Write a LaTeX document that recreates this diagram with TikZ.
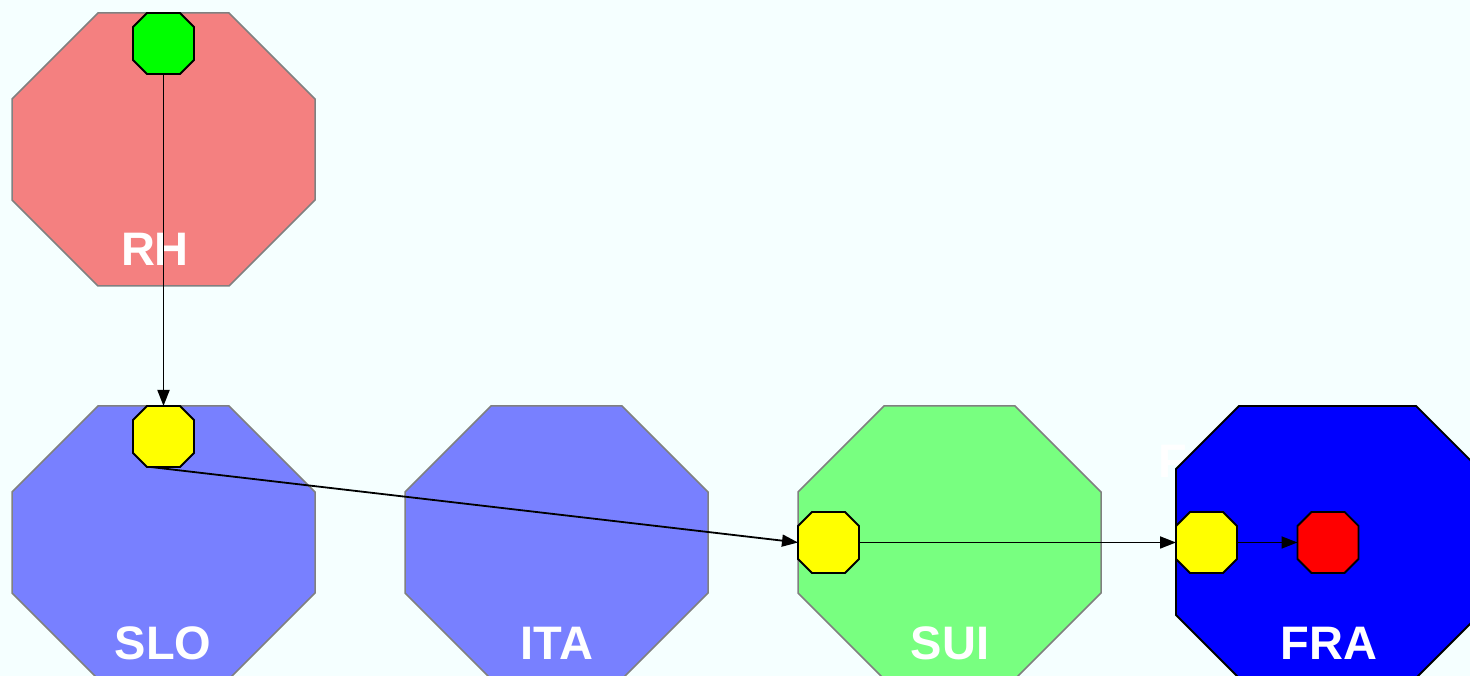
\documentclass[tikz,border=0pt]{standalone}
\usepackage{fontspec}
\setmainfont{Liberation Sans}
\usetikzlibrary{arrows.meta}
\definecolor{bgc}{HTML}{F5FFFF}
\definecolor{pinkc}{HTML}{F48080}
\definecolor{bluec}{HTML}{7880FF}
\definecolor{greenc}{HTML}{78FF80}
\definecolor{yel}{RGB}{255,255,0}
\definecolor{grn}{RGB}{0,255,0}
\definecolor{rd}{RGB}{255,0,0}
\definecolor{blu}{RGB}{0,0,255}
\definecolor{bord}{RGB}{128,128,128}
\newcommand\octpath[3]{% node, cut, style
  \path[#3] ([xshift=#2]#1.north west) -- ([xshift=-#2]#1.north east) -- ([yshift=-#2]#1.north east)
   -- ([yshift=#2]#1.south east) -- ([xshift=-#2]#1.south east) -- ([xshift=#2]#1.south west)
   -- ([yshift=#2]#1.south west) -- ([yshift=-#2]#1.north west) -- cycle;}
\tikzset{
  x=1pt,y=1pt,
  big/.style={rectangle, minimum width=303pt, minimum height=273pt, inner sep=0pt, outer sep=0pt},
  small/.style={rectangle, minimum width=61pt, minimum height=61pt, inner sep=0pt, outer sep=0pt},
  bigline/.style={draw=bord, line width=1.5pt},
  smallline/.style={draw=black, line width=1.8pt},
  lab/.style={text=white, font=\fontsize{47}{47}\selectfont\bfseries, anchor=base, inner sep=0pt},
  conn/.style={draw=black, line width=1.8pt, -{Triangle[length=16pt,width=12pt]}}
}
\begin{document}
\begin{tikzpicture}
\fill[bgc] (0,0) rectangle (1470,676);
\useasboundingbox (0,0) rectangle (1470,676);
\node[big] (rh) at (163.5,526.5) {};
\node[big] (slo) at (163.5,133.5) {};
\node[big] (ita) at (556.5,133.5) {};
\node[big] (sui) at (949.5,133.5) {};
\node[big, minimum height=272pt] (fra) at (1327.5,134) {};
\octpath{rh}{86pt}{bigline, fill=pinkc}
\octpath{slo}{86pt}{bigline, fill=bluec}
\octpath{ita}{86pt}{bigline, fill=bluec}
\octpath{sui}{86pt}{bigline, fill=greenc}
\node[lab, anchor=base west] (fhid) at (1158,198) {F};
\octpath{fra}{63pt}{draw=black, line width=1.8pt, fill=blu}
\node[lab] (rhl) at (155,410) {RH};
\node[lab] (slol) at (163,16) {SLO};
\node[lab] (ital) at (557,16) {ITA};
\node[lab] (suil) at (950,16) {SUI};
\node[lab] (fral) at (1329,16) {FRA};
\node[small] (g) at (163.5,632.5) {};
\node[small] (y1) at (163.5,239.5) {};
\node[small] (y2) at (828.5,133.5) {};
\node[small] (y3) at (1206.5,133.5) {};
\node[small] (r) at (1328,133.5) {};
\octpath{g}{14pt}{smallline, fill=grn}
\octpath{y1}{14pt}{smallline, fill=yel}
\octpath{y2}{14pt}{smallline, fill=yel}
\octpath{y3}{14pt}{smallline, fill=yel}
\octpath{r}{14pt}{smallline, fill=rd}
\draw[conn] (g.south) -- (y1.north);
\draw[conn] ([xshift=-13pt]y1.south) -- (y2.west);
\draw[conn] (y2.east) -- (y3.west);
\draw[conn] (y3.east) -- (r.west);
\end{tikzpicture}
\end{document}
